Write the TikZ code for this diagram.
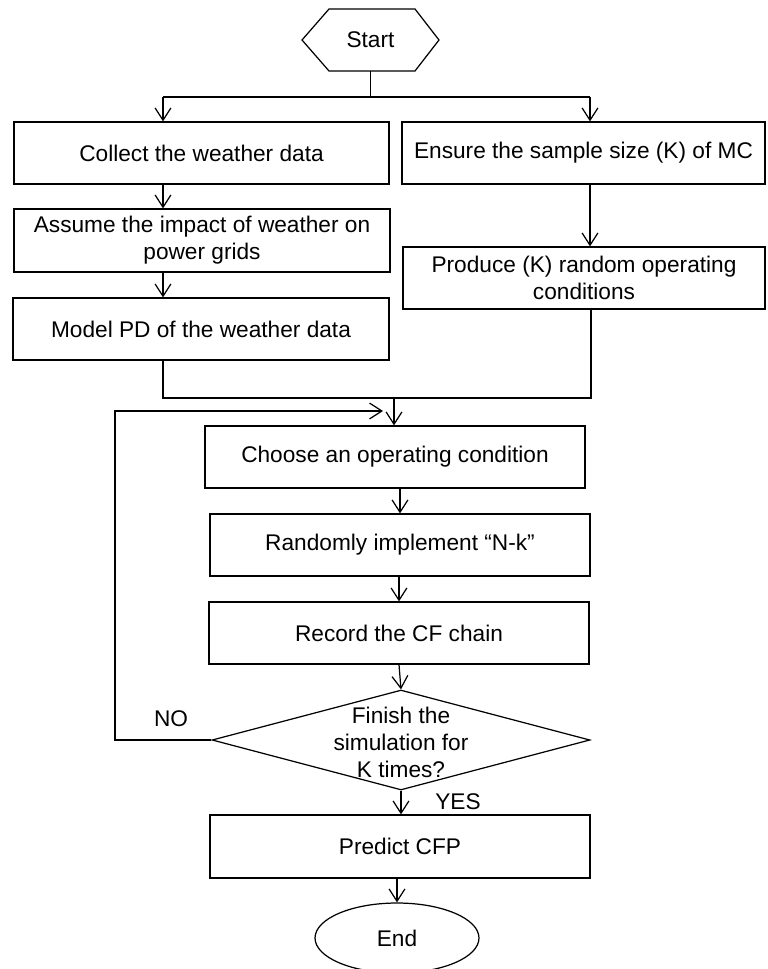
\documentclass[tikz,border=0pt]{standalone}
\usepackage{fontspec}
\setmainfont{Liberation Sans}
\usetikzlibrary{arrows.meta,shapes.geometric}

\tikzset{
    every node/.style={font=\fontsize{12.9}{15.4}\selectfont},
    proc/.style={draw, rectangle, align=center, minimum height=1.24cm, inner sep=0pt},
    arr/.style={-{Straight Barb[length=7pt,width=9pt]}},
}

\begin{document}
\begin{tikzpicture}[x=0.02cm, y=-0.02cm, line width=0.7pt]
    \useasboundingbox (0,0) rectangle (767,969);

    % Nodes
    \node (start) at (370.5,40) [inner sep=0pt, outer sep=0pt, minimum width=2.74cm, minimum height=1.24cm] {Start};
    \node (collect) at (201.5,153) [proc, minimum width=7.5cm] {Collect the weather data};
    \node (assume) at (202,240.5) [proc, minimum width=7.52cm, minimum height=1.26cm] {Assume the impact of weather on\\power grids};
    \node (model) at (201,329) [proc, minimum width=7.52cm] {Model PD of the weather data};
    \node (ensure) at (583.5,153) [proc, minimum width=7.26cm] {Ensure the sample size (K) of MC};
    \node (produce) at (584,278) [proc, minimum width=7.24cm] {Produce (K) random operating\\conditions};
    \node (choose) at (395,457) [proc, minimum width=7.6cm] {Choose an operating condition};
    \node (randomly) at (400,545) [proc, minimum width=7.6cm] {Randomly implement “N-k”};
    \node (record) at (399,633) [proc, minimum width=7.6cm] {Record the CF chain};
    \node (check) at (401,740) [draw, diamond, inner sep=0pt, minimum width=7.56cm, minimum height=2cm] {};
    \node (checktext) at (401,742) [align=center] {Finish the\\simulation for\\K times?};
    \node (predict) at (400,846.5) [proc, minimum width=7.6cm, minimum height=1.26cm] {Predict CFP};
    \node (finish) at (397,938) [draw, ellipse, inner sep=0pt, minimum width=3.28cm, minimum height=1.4cm] {End};
    \node (no) at (171,719) {NO};
    \node (yes) at (458,802) {YES};

    \coordinate (splitL) at (163,97);
    \coordinate (splitR) at (590,97);
    \coordinate (mergeL) at (163,398);
    \coordinate (mergeR) at (591,398);
    \coordinate (merge) at (394,398);
    \coordinate (loop) at (115,411);
    \coordinate (loopend) at (383,411);

    % Start hexagon
    \draw (start.west) -- ([xshift=0.54cm]start.north west) -- ([xshift=-0.48cm]start.north east)
        -- (start.east) -- ([xshift=-0.48cm]start.south east) -- ([xshift=0.54cm]start.south west) -- cycle;

    % Edges
    \draw (start.south) -- (start.south |- splitL);
    \draw (splitL) -- (splitR);
    \draw[arr] (splitL) -- (splitL |- collect.north);
    \draw[arr] (splitR) -- (splitR |- ensure.north);
    \draw[arr] (collect.south -| splitL) -- (assume.north -| splitL);
    \draw[arr] (assume.south -| splitL) -- (model.north -| splitL);
    \draw[arr] (ensure.south -| splitR) -- (produce.north -| splitR);
    \draw (model.south -| mergeL) -- (mergeL) -- (mergeR) -- (produce.south -| mergeR);
    \draw[arr] (merge) -- (merge |- choose.north);
    \draw[arr] (randomly.north |- choose.south) -- (randomly.north);
    \draw[arr] (record.north |- randomly.south) -- (record.north);
    \draw[arr] (record.south) -- (check.north);
    \draw[arr] (check.south) -- (check.south |- predict.north);
    \draw[arr] (finish.north |- predict.south) -- (finish.north);
    \draw[arr] (check.west) -| (loop) -- (loopend);

\end{tikzpicture}
\end{document}
